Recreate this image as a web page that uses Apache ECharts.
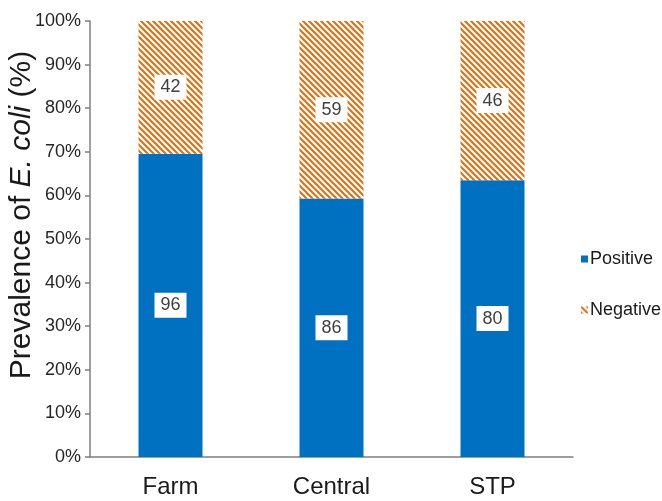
<!DOCTYPE html>
<html>
<head>
<meta charset="utf-8">
<script src="https://cdn.jsdelivr.net/npm/echarts@6/dist/echarts.min.js"></script>
<style>
html,body{margin:0;padding:0;background:#fff;}
#main{width:662px;height:501px;}
</style>
</head>
<body>
<div id="main"></div>
<script>
const categories = ['Farm', 'Central', 'STP'];
const positiveCounts = [96, 86, 80];
const negativeCounts = [42, 59, 46];
const yTickLabels = ['0%','10%','20%','30%','40%','50%','60%','70%','80%','90%','100%'];

const totals = positiveCounts.map((p, i) => p + negativeCounts[i]);
const positivePct = positiveCounts.map((p, i) => p / totals[i] * 100);
const negativePct = negativeCounts.map((n, i) => n / totals[i] * 100);

function makeHatch() {
  const s = 6;
  const c = document.createElement('canvas');
  c.width = s; c.height = s;
  const ctx = c.getContext('2d');
  ctx.fillStyle = '#ffffff';
  ctx.fillRect(0, 0, s, s);
  ctx.strokeStyle = '#E46C0A';
  ctx.lineWidth = 2;
  ctx.beginPath();
  ctx.moveTo(-1, -1); ctx.lineTo(s + 1, s + 1);
  ctx.moveTo(-1, s - 1); ctx.lineTo(1, s + 1);
  ctx.moveTo(s - 1, -1); ctx.lineTo(s + 1, 1);
  ctx.stroke();
  return c;
}
const hatch = { image: makeHatch(), repeat: 'repeat' };

const labelBase = {
  show: true,
  position: 'inside',
  color: '#404040',
  fontSize: 18,
  fontFamily: 'Liberation Sans, Arial, sans-serif',
  backgroundColor: '#ffffff',
  padding: [4, 6, 3, 6]
};

const chart = echarts.init(document.getElementById('main'));
chart.setOption({
  animation: false,
  textStyle: { fontFamily: 'Liberation Sans, Arial, sans-serif' },
  grid: { left: 90, right: 89, top: 21, bottom: 44, containLabel: false, outerBoundsMode: 'none' },
  legend: {
    orient: 'vertical',
    left: 576,
    top: 245,
    itemWidth: 7,
    itemHeight: 7,
    itemGap: 33,
    textStyle: { fontSize: 18, color: '#1a1a1a', padding: [0, 0, 0, -3] },
    data: [{ name: 'Positive', icon: 'rect' }, { name: 'Negative', icon: 'rect' }]
  },
  xAxis: {
    type: 'category',
    data: categories,
    axisLine: { lineStyle: { color: '#7f7f7f', width: 1.5 } },
    axisTick: { show: false },
    axisLabel: { fontSize: 24, color: '#1a1a1a', margin: 18 }
  },
  yAxis: {
    type: 'value',
    min: 0,
    max: 100,
    interval: 10,
    name: '{a|Prevalence of }{b|E. coli}{a| (%)}',
    nameLocation: 'middle',
    nameGap: 53,
    nameMoveOverlap: false,
    nameTextStyle: {
      padding: [0, 0, 0, 48],
      rich: {
        a: { fontSize: 30, color: '#1a1a1a' },
        b: { fontSize: 30, color: '#1a1a1a', fontStyle: 'italic' }
      }
    },
    splitLine: { show: false },
    axisLine: { show: true, lineStyle: { color: '#7f7f7f', width: 1.5 } },
    axisTick: { show: true, length: 5, lineStyle: { color: '#7f7f7f', width: 1.5 } },
    axisLabel: {
      fontSize: 18, color: '#262626', margin: 9,
      formatter: v => yTickLabels[Math.round(v / 10)]
    }
  },
  series: [
    {
      name: 'Positive',
      type: 'bar',
      stack: 'total',
      barWidth: 64,
      data: positivePct,
      itemStyle: { color: '#0070C0' },
      label: Object.assign({}, labelBase, {
        formatter: p => positiveCounts[p.dataIndex]
      })
    },
    {
      name: 'Negative',
      type: 'bar',
      stack: 'total',
      barWidth: 64,
      data: negativePct,
      itemStyle: { color: hatch },
      label: Object.assign({}, labelBase, {
        formatter: p => negativeCounts[p.dataIndex]
      })
    }
  ]
});
</script>
</body>
</html>
